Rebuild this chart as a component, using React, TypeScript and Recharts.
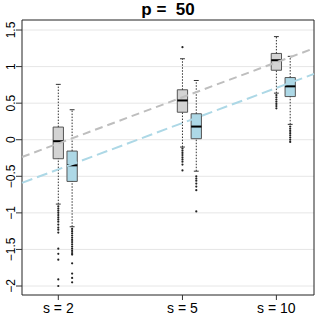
import React from 'react';
import {
  ComposedChart,
  XAxis,
  YAxis,
  CartesianGrid,
  ReferenceLine,
  ReferenceArea,
  Scatter,
} from 'recharts';

// ---- data ----
const groups = [2, 5, 10];
const xTickLabels = ['s = 2', 's = 5', 's = 10'];
const yTicks = [-2, -1.5, -1, -0.5, 0, 0.5, 1, 1.5];
const yTickLabels = ['\u22122', '\u22121.5', '\u22121', '\u22120.5', '0', '0.5', '1', '1.5'];
const gridValues = [-2, -1.75, -1.5, -1.25, -1, -0.75, -0.5, -0.25, 0, 0.25, 0.5, 0.75, 1, 1.25, 1.5];
const title = 'p =  50';

const xDomain = [1.53, 13.2];
const yDomain = [-2.123, 1.637];

// grey series (per group)
const greyLow = [-0.88, -0.1, 0.637];
const greyQ1 = [-0.26, 0.376, 0.95];
const greyMed = [-0.02, 0.537, 1.087];
const greyQ3 = [0.173, 0.683, 1.18];
const greyHigh = [0.757, 1.107, 1.41];
const greyOutliers = [
  [-0.91, -0.94, -0.97, -1.0, -1.03, -1.06, -1.09, -1.12, -1.16, -1.2, -1.23, -1.27, -1.49, -1.56, -1.64, -1.91, -2.0],
  [1.266, -0.12, -0.15, -0.18, -0.21, -0.24, -0.27, -0.3, -0.34, -0.42],
  [0.61, 0.58, 0.55, 0.52, 0.49, 0.46, 0.43],
];

// blue series (per group)
const blueLow = [-1.19, -0.43, 0.21];
const blueQ1 = [-0.57, 0.014, 0.59];
const blueMed = [-0.35, 0.18, 0.73];
const blueQ3 = [-0.155, 0.355, 0.85];
const blueHigh = [0.41, 0.81, 1.14];
const blueOutliers = [
  [-1.22, -1.25, -1.28, -1.31, -1.34, -1.37, -1.4, -1.43, -1.46, -1.49, -1.52, -1.55, -1.57, -1.69, -1.83, -1.89, -1.95],
  [-0.5, -0.53, -0.56, -0.6, -0.64, -0.69, -0.98],
  [0.18, 0.15, 0.12, 0.09, 0.06, 0.03, 0.0, -0.03],
];

// dashed trend lines: values at the left and right ends of the x range
const greyTrend = [-0.236, 1.25];
const blueTrend = [-0.59, 0.9];

// ---- styles ----
const BLUE_SHIFT = 0.102; // log offset of blue boxes
const BOX_HALF = 0.038; // log half-width of boxes
const CAP_HALF = 0.018;
const FONT = '"Liberation Sans", Arial, Helvetica, sans-serif';
const GREY_FILL = '#d3d3d3';
const BLUE_FILL = '#add8e6';

type BoxSpec = {
  pos: number;
  lo: number;
  q1: number;
  med: number;
  q3: number;
  hi: number;
  fill: string;
  key: string;
};

const boxes: BoxSpec[] = [];
groups.forEach((g, i) => {
  boxes.push({ pos: g, lo: greyLow[i], q1: greyQ1[i], med: greyMed[i], q3: greyQ3[i], hi: greyHigh[i], fill: GREY_FILL, key: 'g' + i });
  boxes.push({ pos: g * Math.exp(BLUE_SHIFT), lo: blueLow[i], q1: blueQ1[i], med: blueMed[i], q3: blueQ3[i], hi: blueHigh[i], fill: BLUE_FILL, key: 'b' + i });
});

const outlierData: { x: number; y: number }[] = [];
groups.forEach((g, i) => {
  greyOutliers[i].forEach((v) => outlierData.push({ x: g, y: v }));
  blueOutliers[i].forEach((v) => outlierData.push({ x: g * Math.exp(BLUE_SHIFT), y: v }));
});

const YTick = (props: any) => {
  const { x, y, payload } = props;
  const idx = yTicks.indexOf(payload.value);
  const label = idx >= 0 ? yTickLabels[idx] : String(payload.value);
  const bx = x - 1;
  return (
    <text
      x={bx}
      y={y}
      transform={`rotate(-90, ${bx}, ${y})`}
      textAnchor="middle"
      fontSize={12}
      fontFamily={FONT}
      fill="#000"
    >
      {label}
    </text>
  );
};

const XTick = (props: any) => {
  const { x, y, payload } = props;
  const idx = groups.indexOf(payload.value);
  const label = idx >= 0 ? xTickLabels[idx] : String(payload.value);
  return (
    <text x={x} y={y + 13} textAnchor="middle" fontSize={14} fontFamily={FONT} fill="#000">
      {label}
    </text>
  );
};

const Dot = (props: any) => {
  const { cx, cy } = props;
  return <circle cx={cx} cy={cy} r={1.1} fill="#222" />;
};

export default function App() {
  const els: React.ReactElement[] = [];
  boxes.forEach((b) => {
    const xl = b.pos * Math.exp(-BOX_HALF);
    const xr = b.pos * Math.exp(BOX_HALF);
    const cl = b.pos * Math.exp(-CAP_HALF);
    const cr = b.pos * Math.exp(CAP_HALF);
    els.push(
      <ReferenceLine key={b.key + 'wu'} segment={[{ x: b.pos, y: b.q3 }, { x: b.pos, y: b.hi }]} stroke="#333" strokeDasharray="1.5 1.5" strokeWidth={1} />,
      <ReferenceLine key={b.key + 'wl'} segment={[{ x: b.pos, y: b.lo }, { x: b.pos, y: b.q1 }]} stroke="#333" strokeDasharray="1.5 1.5" strokeWidth={1} />,
      <ReferenceLine key={b.key + 'cu'} segment={[{ x: cl, y: b.hi }, { x: cr, y: b.hi }]} stroke="#333" strokeWidth={1} />,
      <ReferenceLine key={b.key + 'cl'} segment={[{ x: cl, y: b.lo }, { x: cr, y: b.lo }]} stroke="#333" strokeWidth={1} />,
      <ReferenceArea key={b.key + 'bx'} x1={xl} x2={xr} y1={b.q1} y2={b.q3} fill={b.fill} fillOpacity={1} stroke="#555" strokeWidth={1} />,
      <ReferenceLine key={b.key + 'md'} segment={[{ x: xl, y: b.med }, { x: xr, y: b.med }]} stroke="#000" strokeWidth={2} />
    );
  });

  return (
    <div style={{ position: 'absolute', left: 0, top: 0, width: 319, height: 319, background: '#fff' }}>
      <div
        style={{
          position: 'absolute',
          left: 22,
          top: 1,
          width: 292,
          textAlign: 'center',
          fontFamily: FONT,
          fontWeight: 'bold',
          fontSize: 17,
          lineHeight: '17px',
          whiteSpace: 'pre',
          zIndex: 2,
        }}
      >
        {title}
      </div>
      <ComposedChart width={319} height={319} margin={{ top: 20, right: 5, bottom: 0, left: 0 }}>
        <CartesianGrid vertical={false} horizontalValues={gridValues} stroke="#e6e6e6" strokeWidth={1} />
        <XAxis
          type="number"
          dataKey="x"
          scale="log"
          domain={xDomain}
          ticks={groups}
          allowDataOverflow
          height={24}
          tickSize={5}
          tickMargin={0}
          axisLine={false}
          tickLine={{ stroke: '#333' }}
          tick={<XTick />}
        />
        <YAxis
          type="number"
          dataKey="y"
          domain={yDomain}
          ticks={yTicks}
          allowDataOverflow
          width={22}
          tickSize={6}
          tickMargin={0}
          axisLine={false}
          tickLine={{ stroke: '#333' }}
          tick={<YTick />}
        />
        {els}
        <Scatter data={outlierData} dataKey="y" shape={<Dot />} isAnimationActive={false} />
        <ReferenceLine
          segment={[{ x: xDomain[0], y: greyTrend[0] }, { x: xDomain[1], y: greyTrend[1] }]}
          stroke="#bebebe"
          strokeWidth={2}
          strokeDasharray="8 5"
        />
        <ReferenceLine
          segment={[{ x: xDomain[0], y: blueTrend[0] }, { x: xDomain[1], y: blueTrend[1] }]}
          stroke={BLUE_FILL}
          strokeWidth={2}
          strokeDasharray="11 5"
        />
        <ReferenceArea x1={xDomain[0]} x2={xDomain[1]} y1={yDomain[0]} y2={yDomain[1]} fill="none" stroke="#222" strokeWidth={1} />
      </ComposedChart>
    </div>
  );
}
